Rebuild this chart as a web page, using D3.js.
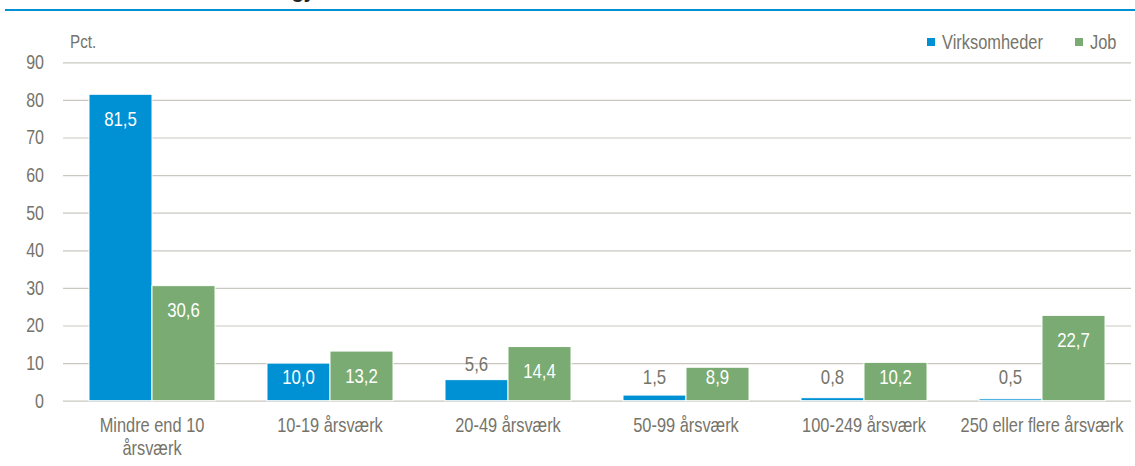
<!DOCTYPE html>
<html>
<head>
<meta charset="utf-8">
<script src="https://cdn.jsdelivr.net/npm/d3@7"></script>
<style>
  body { margin: 0; background: white; }
  text { font-family: "Liberation Sans", Arial, sans-serif; }
</style>
</head>
<body>
<div id="chart"></div>
<script>

// data
const categories = ["Mindre end 10\nårsværk", "10-19 årsværk", "20-49 årsværk",
  "50-99 årsværk", "100-249 årsværk", "250 eller flere årsværk"]
const virksomheder = [81.5, 10.0, 5.6, 1.5, 0.8, 0.5]
const job = [30.6, 13.2, 14.4, 8.9, 10.2, 22.7]
const seriesNames = ["Virksomheder", "Job"]
const yTicks = [0, 10, 20, 30, 40, 50, 60, 70, 80, 90]
const yLabel = "Pct."

const MARGIN = { LEFT: 63, RIGHT: 4, TOP: 62.3, BOTTOM: 65.3 }
const WIDTH = 1135 - MARGIN.LEFT - MARGIN.RIGHT
const HEIGHT = 466 - MARGIN.TOP - MARGIN.BOTTOM

const BLUE = "#0090d4"
const GREEN = "#79ab72"
const GREY_TEXT = "#76746a"
const GRID = "#c9c7bf"
const SQUEEZE = 0.8   // no condensed face installed, so squeeze the glyphs

const svg = d3.select("#chart").append("svg")
  .attr("width", 1135)
  .attr("height", 466)

// squeeze text horizontally to look like a condensed font
function narrow(sel, k) {
  k = k || SQUEEZE
  sel.each(function() {
    var spans = d3.select(this).selectAll("tspan")
    var targets = spans.empty() ? [this] : spans.nodes()
    targets.forEach(function(t) {
      var len = t.getComputedTextLength()
      d3.select(t).attr("textLength", len * k).attr("lengthAdjust", "spacingAndGlyphs")
    })
  })
}

// remains of the title above, cut off by the frame
svg.append("text")
  .attr("x", 315)
  .attr("y", -2)
  .attr("text-anchor", "end")
  .style("font-weight", "bold")
  .style("font-size", "20px")
  .attr("fill", "#222")
  .text("gy")

svg.append("line")
  .attr("x1", 5).attr("x2", 1135)
  .attr("y1", 10).attr("y2", 10)
  .attr("stroke", BLUE)
  .attr("stroke-width", 2)

const g = svg.append("g")
  .attr("transform", `translate(${MARGIN.LEFT}, ${MARGIN.TOP})`)

const x = d3.scaleBand()
  .domain(categories)
  .range([0, WIDTH])
  .paddingInner(0.292)
  .paddingOuter(0.146)

const x1 = d3.scaleBand()
  .domain(seriesNames)
  .range([0, x.bandwidth()])

const y = d3.scaleLinear()
  .domain([0, 90])
  .range([HEIGHT, 0])

// gridlines + tick labels
const yAxis = g.append("g")
  .call(d3.axisLeft(y).tickValues(yTicks).tickSize(-WIDTH).tickFormat(d3.format("d")))
yAxis.select(".domain").remove()
yAxis.selectAll(".tick line").attr("stroke", GRID).attr("stroke-width", 1.2)
yAxis.selectAll(".tick text")
  .attr("x", -19)
  .attr("fill", GREY_TEXT)
  .style("font-size", "20px")
  .call(narrow)

g.append("text")
  .attr("x", 7)
  .attr("y", -14)
  .attr("fill", GREY_TEXT)
  .style("font-size", "19px")
  .text(yLabel)
  .call(narrow)

// bars
const rows = categories.map(function(c, i) {
  return [
    { cat: c, name: seriesNames[0], value: virksomheder[i], color: BLUE },
    { cat: c, name: seriesNames[1], value: job[i], color: GREEN }
  ]
})

const groups = g.selectAll(".group")
  .data(rows)
  .enter()
  .append("g")
  .attr("transform", function(d) { return `translate(${x(d[0].cat)}, 0)` })

groups.selectAll("rect")
  .data(function(d) { return d })
  .enter()
  .append("rect")
  .attr("x", function(d) { return x1(d.name) })
  .attr("y", function(d) { return y(d.value) })
  .attr("width", x1.bandwidth())
  .attr("height", function(d) { return y(0) - y(d.value) })
  .attr("fill", function(d) { return d.color })
  .attr("stroke", "white")
  .attr("stroke-width", 1)

// value labels: inside the bar when it is tall enough, else above
groups.selectAll(".val")
  .data(function(d) { return d })
  .enter()
  .append("text")
  .attr("class", "val")
  .attr("x", function(d) { return x1(d.name) + x1.bandwidth() / 2 })
  .attr("y", function(d) {
    var inside = d.value >= 8
    var c = inside ? y(d.value) + 24 : y(d.value) - 16
    return Math.min(c, y(0) - 24)
  })
  .attr("dy", "0.36em")
  .attr("text-anchor", "middle")
  .attr("fill", function(d) { return d.value >= 8 ? "white" : GREY_TEXT })
  .style("font-size", "21px")
  .text(function(d) { return d3.format(".1f")(d.value).replace(".", ",") })
  .call(narrow)

// category labels, line breaks as given
const xAxis = g.append("g")
  .attr("transform", `translate(0, ${HEIGHT})`)
  .call(d3.axisBottom(x).tickSize(0).tickPadding(16))
xAxis.select(".domain").remove()
xAxis.selectAll(".tick text")
  .attr("fill", GREY_TEXT)
  .style("font-size", "21px")
  .each(function(d) {
    var text = d3.select(this)
    var dy = parseFloat(text.attr("dy"))
    text.text(null)
    d.split("\n").forEach(function(part, i) {
      text.append("tspan")
        .attr("x", 0)
        .attr("dy", (i === 0 ? dy : 1.12) + "em")
        .text(part)
    })
  })
  .call(narrow, 0.78)

// legend
const legend = svg.append("g")
  .attr("transform", "translate(927, 42)")

const legendItems = [
  { name: seriesNames[0], color: BLUE, at: 0 },
  { name: seriesNames[1], color: GREEN, at: 148 }
]

legendItems.forEach(function(d) {
  const row = legend.append("g").attr("transform", `translate(${d.at}, 0)`)
  row.append("rect")
    .attr("x", 0).attr("y", -4)
    .attr("width", 8).attr("height", 8)
    .attr("fill", d.color)
  row.append("text")
    .attr("x", 15)
    .attr("y", 0)
    .attr("dy", "0.36em")
    .attr("fill", GREY_TEXT)
    .style("font-size", "20px")
    .text(d.name)
    .call(narrow, 0.82)
})

</script>
</body>
</html>
